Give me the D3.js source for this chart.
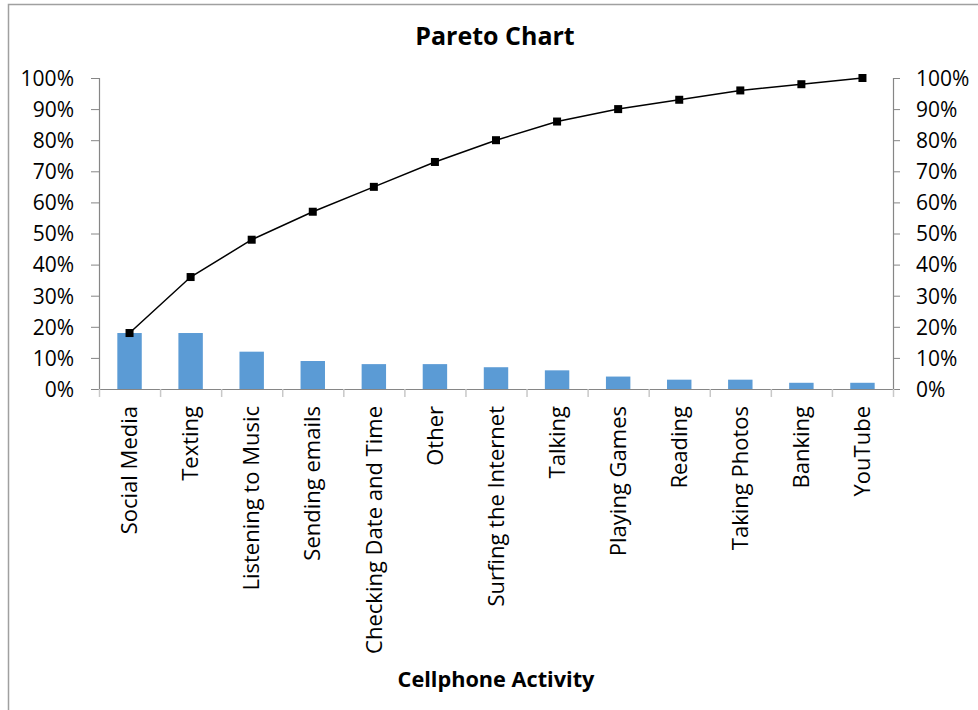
<!DOCTYPE html>
<html><head><meta charset="utf-8">
<script src="https://cdn.jsdelivr.net/npm/d3@7"></script>
<style>
html,body{margin:0;padding:0;background:#fff;}
svg{display:block;font-family:"Open Sans",sans-serif;}
</style></head>
<body>
<svg id="chart" width="978" height="710"></svg>
<script>
const categories = ["Social Media","Texting","Listening to Music","Sending emails","Checking Date and Time","Other","Surfing the Internet","Talking","Playing Games","Reading","Taking Photos","Banking","YouTube"];
const percentValues = [18,18,12,9,8,8,7,6,4,3,3,2,2];
const cumulativeValues = [18,36,48,57,65,73,80,86,90,93,96,98,100];
const tickValues = [0,10,20,30,40,50,60,70,80,90,100];
const chartTitle = "Pareto Chart";
const xTitle = "Cellphone Activity";

(function(){
const svg = d3.select("#chart");
const W = 978, H = 710;
const pL = 99, pR = 893, pT = 78, pB = 389;

svg.append("path").attr("d", `M8.5,${H} L8.5,4.5 L${W},4.5`).attr("fill","none").attr("stroke","#a0a0a0").attr("stroke-width",1.5);

const xb = d3.scaleBand().domain(categories).range([pL, pR]);
const y = d3.scaleLinear().domain([0,100]).range([pB, pT]);

svg.append("g").selectAll("rect").data(percentValues).join("rect")
  .attr("x",(d,i)=>xb(categories[i]) + xb.bandwidth()*0.3)
  .attr("width", xb.bandwidth()*0.4)
  .attr("y", d=>y(d)).attr("height", d=>pB - y(d))
  .attr("fill","#5b9bd5");

const yl = svg.append("g").attr("transform",`translate(${pL},0)`)
  .call(d3.axisLeft(y).tickValues(tickValues).tickSize(8).tickPadding(17).tickFormat(d=>d+"%"));
const yr = svg.append("g").attr("transform",`translate(${pR},0)`)
  .call(d3.axisRight(y).tickValues(tickValues).tickSize(7).tickPadding(16).tickFormat(d=>d+"%"));
[yl,yr].forEach(g=>{
  g.select(".domain").attr("stroke","#868686").attr("stroke-width",1.2);
  g.selectAll(".tick line").attr("stroke","#868686");
  g.selectAll(".tick text").attr("font-size",21).attr("fill","#000").attr("font-family","'Open Sans',sans-serif").attr("dy","0.35em");
});

svg.append("line").attr("x1",pL).attr("x2",pR).attr("y1",pB+0.5).attr("y2",pB+0.5).attr("stroke","#868686").attr("stroke-width",1.2);
const bounds = categories.map(c=>xb(c)).concat([pR]);
svg.append("g").selectAll("line").data(bounds).join("line")
  .attr("x1",d=>d+0.5).attr("x2",d=>d+0.5).attr("y1",pB).attr("y2",pB+8)
  .attr("stroke","#c8c8c8").attr("stroke-width",1.5);

svg.append("g").selectAll("text").data(categories).join("text")
  .attr("transform",d=>`translate(${xb(d)+xb.bandwidth()/2},406) rotate(-90)`)
  .attr("text-anchor","end").attr("dy","0.35em")
  .attr("font-size",22).attr("fill","#000").text(d=>d);

const line = d3.line().x((d,i)=>xb(categories[i])+xb.bandwidth()/2).y(d=>y(d));
svg.append("path").datum(cumulativeValues).attr("d",line).attr("fill","none").attr("stroke","#000").attr("stroke-width",1.5);
svg.append("g").selectAll("rect").data(cumulativeValues).join("rect")
  .attr("x",(d,i)=>xb(categories[i])+xb.bandwidth()/2-4)
  .attr("y",d=>y(d)-4).attr("width",8).attr("height",8).attr("fill","#000");

svg.append("text").attr("x",495).attr("y",45).attr("text-anchor","middle").attr("font-size",25).attr("font-weight","bold").text(chartTitle);
svg.append("text").attr("x",496).attr("y",687).attr("text-anchor","middle").attr("font-size",21.7).attr("font-weight","bold").text(xTitle);
})();
</script>
</body></html>
